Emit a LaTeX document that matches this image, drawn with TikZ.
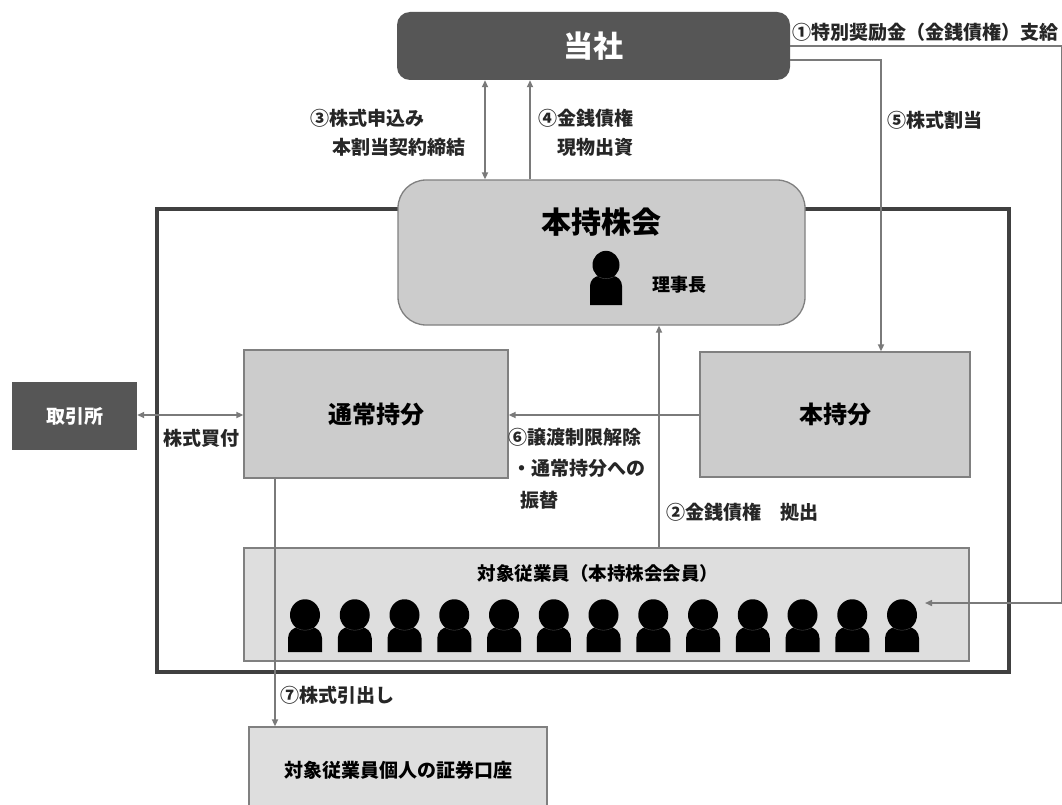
\documentclass[tikz,border=0pt]{standalone}
\usepackage{fontspec}
\setmainfont{Noto Sans CJK JP}
\usetikzlibrary{arrows.meta}
\definecolor{darkbox}{HTML}{565656}
\definecolor{midbox}{HTML}{CCCCCC}
\definecolor{lightbox}{HTML}{DEDEDE}
\definecolor{edgegray}{HTML}{808080}
\definecolor{linegray}{HTML}{7A7A7A}
\definecolor{framegray}{HTML}{404040}
\newcommand\personicon[5]{% cx, head cy, head r, half width, body bottom
  \fill[black, rounded corners=#3*0.75pt] ({#1-#4},{#5}) -- ({#1-#4},{#2+#3*0.8}) -- ({#1+#4},{#2+#3*0.8}) -- ({#1+#4},{#5});
  \fill[black] (#1,#2) circle[x radius=#3, y radius=#3*1.05];
  \draw[black!70, line width=0.4pt] ({#1-#3*0.55},{#2+#3*0.88}) to[bend right=25] ({#1+#3*0.55},{#2+#3*0.88});
}
\begin{document}
\begin{tikzpicture}[x=1pt,y=-1pt,
  every node/.style={font=\bfseries},
  darkrect/.style={fill=darkbox, draw=none, text=white, inner sep=0pt},
  midrect/.style={fill=midbox, draw=edgegray, line width=1.3pt, inner sep=0pt},
  lightrect/.style={fill=lightbox, draw=edgegray, line width=1.3pt, inner sep=0pt},
  conn/.style={draw=linegray, line width=1.8pt},
  tip/.style={-{Triangle[length=7pt,width=6pt]}},
  lbl/.style={anchor=west, inner sep=0pt, font=\bfseries\fontsize{19}{21}\selectfont, text=black!85},
]
\useasboundingbox (0,0) rectangle (1062,805);
\clip (0,0) rectangle (1062,805);
\fill[white] (0,0) rectangle (1062,805);

% outer frame
\draw[framegray, line width=4.5pt] (157,209) rectangle (1009,672);

% boxes
\node[darkrect, rounded corners=13pt, minimum width=393pt, minimum height=68pt,
      font=\bfseries\fontsize{30}{32}\selectfont] (tousha) at (593.5,46) {当社};
\node[midrect, rounded corners=28pt, minimum width=407pt, minimum height=145pt] (honkai) at (601.5,252.5) {};
\node[inner sep=0pt, font=\bfseries\fontsize{30}{32}\selectfont] (honkaitxt) at (601,222) {本持株会};
\node[midrect, minimum width=264pt, minimum height=128pt,
      font=\bfseries\fontsize{24}{26}\selectfont] (tsujo) at (376,414) {通常持分};
\node[midrect, minimum width=270pt, minimum height=125pt,
      font=\bfseries\fontsize{24}{26}\selectfont] (hon) at (835,414.5) {本持分};
\node[darkrect, minimum width=125pt, minimum height=68pt,
      font=\bfseries\fontsize{19}{21}\selectfont] (torihiki) at (74.5,416) {取引所};
\node[lightrect, minimum width=725pt, minimum height=113pt] (emp) at (606.5,604.5) {};
\node[inner sep=0pt, font=\bfseries\fontsize{18.5}{20}\selectfont] (emptxt) at (598,573) {対象従業員（本持株会会員）};
\node[lightrect, minimum width=298pt, minimum height=86pt,
      font=\bfseries\fontsize{19}{21}\selectfont] (shoken) at (398,770) {対象従業員個人の証券口座};

% persons
\personicon{606}{265}{13.5}{16}{305}
\node[inner sep=0pt, font=\bfseries\fontsize{18}{20}\selectfont, anchor=west] (rijicho) at (652,285) {理事長};
\foreach \i in {0,...,12} {
  \pgfmathsetmacro\cx{305+49.75*\i}
  \personicon{\cx}{615}{15}{17}{652}
}

% coordinates for connectors
\coordinate (x3) at (485,0);
\coordinate (x4) at (530,0);
\coordinate (r5) at (881,60);
\coordinate (c1a) at (1062,46);
\coordinate (c1b) at (1062,603);
\coordinate (empin) at (925,603);
\coordinate (x2) at (659,0);
\coordinate (x7) at (275,0);
\coordinate (y6) at (0,415);

% connectors
\draw[conn, {Triangle[length=7pt,width=6pt]}-{Triangle[length=7pt,width=6pt]}] (honkai.north -| x3) -- (tousha.south -| x3);
\draw[conn, tip] (honkai.north -| x4) -- (tousha.south -| x4);
\draw[conn, line width=1.5pt, tip] (tousha.east) -- (c1a) -- (c1b) -- (empin);
\draw[conn, tip] (tousha.east |- r5) -- (r5) -- (hon.north -| r5);
\draw[conn, {Triangle[length=7pt,width=6pt]}-{Triangle[length=7pt,width=6pt]}] (torihiki.east |- y6) -- (tsujo.west |- y6);
\draw[conn, tip] (hon.west |- y6) -- (tsujo.east |- y6);
\draw[conn, tip] (emp.north -| x2) -- (honkai.south -| x2);
\draw[conn, tip] (tsujo.south -| x7) -- (shoken.north -| x7);

% labels
\node[lbl] (l1) at (792,32) {①特別奨励金（金銭債権）支給};
\node[lbl] (l3a) at (310,118) {③株式申込み};
\node[lbl] (l3b) at (332,147) {本割当契約締結};
\node[lbl] (l4a) at (538,118) {④金銭債権};
\node[lbl] (l4b) at (557,147) {現物出資};
\node[lbl] (l5) at (887,120) {⑤株式割当};
\node[lbl] (lbuy) at (163,438) {株式買付};
\node[lbl] (l6a) at (508,437) {⑥譲渡制限解除};
\node[lbl] (l6b) at (512,468) {・通常持分への};
\node[lbl] (l6c) at (520,500) {振替};
\node[lbl] (l2) at (666,512) {②金銭債権　拠出};
\node[lbl] (l7) at (280,695) {⑦株式引出し};
\end{tikzpicture}
\end{document}
